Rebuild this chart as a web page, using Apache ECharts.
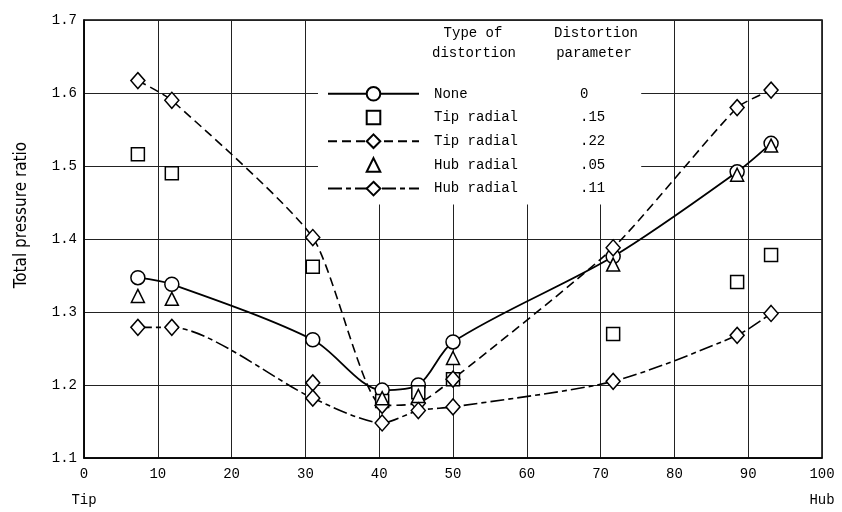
<!DOCTYPE html>
<html>
<head>
<meta charset="utf-8">
<script src="https://cdn.jsdelivr.net/npm/echarts@6/dist/echarts.min.js"></script>
<style>
  html, body { margin: 0; background: #fff; }
  #chart { width: 842px; height: 512px; }
</style>
</head>
<body>
<div id="chart"></div>
<script>
// radial position, percent of passage height measured from tip
const positions = [7.3, 11.9, 31, 40.4, 45.3, 50, 71.7, 88.5, 93.1];

// total pressure ratio at each position
const noneRatio  = [1.347, 1.338, 1.262, 1.193, 1.200, 1.259, 1.376, 1.492, 1.531];
const tip15Ratio = [1.516, 1.490, 1.362, 1.178, 1.190, 1.208, 1.270, 1.341, 1.378];
const tip22Ratio = [1.617, 1.590, 1.402, 1.172, 1.175, 1.208, 1.388, 1.580, 1.604];
const hub05Ratio = [1.322, 1.318, null, 1.182, 1.185, 1.237, 1.365, 1.488, 1.528];
const hub11Ratio = [1.279, 1.279, 1.182, 1.148, 1.165, 1.170, 1.205, 1.268, 1.298];
// one more hub radial .11 reading at the 31 percent station
const hub11ExtraPos = [31];
const hub11ExtraRatio = [1.203];

const distortionTypes  = ['None', 'Tip radial', 'Tip radial', 'Hub radial', 'Hub radial'];
const distortionParams = ['0', '.15', '.22', '.05', '.11'];

const xMin = 0, xMax = 100, xStep = 10;
const yMin = 1.1, yMax = 1.7, yStep = 0.1;

const MONO = '"Liberation Mono", "DejaVu Sans Mono", monospace';
const NARROW = '"Liberation Sans Narrow", "DejaVu Sans Condensed", sans-serif';

const seriesNames = distortionTypes.map((t, i) => t + ' ' + distortionParams[i]);

function pairs(xs, ys) {
  return xs.map((x, i) => [x, ys[i]]).filter(p => p[1] != null);
}

const hollow = { color: '#fff', borderColor: '#000', borderWidth: 1.5, opacity: 1 };
// symbols only: a line series whose line is hidden, so the legend keeps the symbol square
const noLine = { color: '#000', width: 0, opacity: 0 };

const chart = echarts.init(document.getElementById('chart'));

chart.setOption({
  backgroundColor: '#fff',
  animation: false,
  grid: { left: 84, right: 20, top: 20, bottom: 54, show: true, borderColor: '#000', borderWidth: 1.5 },
  xAxis: {
    type: 'value', min: xMin, max: xMax, interval: xStep,
    axisLine: { show: true, lineStyle: { color: '#000', width: 1.5 } },
    axisTick: { show: false },
    splitLine: { show: true, lineStyle: { color: '#222', width: 1 } },
    axisLabel: {
      margin: 8, color: '#000',
      formatter: v => v === 0 ? '{v|0}\n{t|Tip}' : (v === 100 ? '{v|100}\n{t|Hub}' : '{v|' + v + '}'),
      rich: {
        v: { fontFamily: MONO, fontSize: 14, lineHeight: 16, color: '#000' },
        t: { fontFamily: MONO, fontSize: 14, lineHeight: 36, color: '#000' }
      }
    }
  },
  yAxis: {
    type: 'value', min: yMin, max: yMax, interval: yStep,
    axisLine: { show: true, lineStyle: { color: '#000', width: 1.5 } },
    axisTick: { show: false },
    splitLine: { show: true, lineStyle: { color: '#222', width: 1 } },
    axisLabel: { margin: 7, color: '#000', fontFamily: MONO, fontSize: 14, formatter: v => v.toFixed(1) }
  },
  legend: {
    orient: 'vertical', left: 318, top: 21,
    padding: [65, 36, 8, 9],
    backgroundColor: '#fff',
    itemWidth: 91, itemHeight: 17, itemGap: 8.1,
    selectedMode: false,
    data: seriesNames,
    formatter: name => {
      const i = seriesNames.indexOf(name);
      return '{n|' + distortionTypes[i] + '}{p|' + distortionParams[i] + '}';
    },
    textStyle: {
      fontFamily: MONO, fontSize: 14, color: '#000',
      rich: {
        n: { fontFamily: MONO, fontSize: 14, color: '#000', width: 146, padding: [0, 0, 0, 10] },
        p: { fontFamily: MONO, fontSize: 14, color: '#000' }
      }
    }
  },
  graphic: [
    { type: 'text', x: 473, y: 33, z: 100, style: { text: 'Type of', font: '14px ' + MONO, fill: '#000', textAlign: 'center', textVerticalAlign: 'middle' } },
    { type: 'text', x: 474, y: 53, z: 100, style: { text: 'distortion', font: '14px ' + MONO, fill: '#000', textAlign: 'center', textVerticalAlign: 'middle' } },
    { type: 'text', x: 596, y: 33, z: 100, style: { text: 'Distortion', font: '14px ' + MONO, fill: '#000', textAlign: 'center', textVerticalAlign: 'middle' } },
    { type: 'text', x: 594, y: 53, z: 100, style: { text: 'parameter', font: '14px ' + MONO, fill: '#000', textAlign: 'center', textVerticalAlign: 'middle' } },
    { type: 'text', x: 22, y: 215, rotation: Math.PI / 2, style: { text: 'Total pressure ratio', font: '17px ' + NARROW, fill: '#000', textAlign: 'center', textVerticalAlign: 'middle' } }
  ],
  series: [
    {
      name: seriesNames[0], type: 'line', smooth: 0.3,
      data: pairs(positions, noneRatio),
      symbol: 'circle', symbolSize: 14,
      lineStyle: { color: '#000', width: 1.8 },
      itemStyle: hollow
    },
    {
      name: seriesNames[1], type: 'line',
      data: pairs(positions, tip15Ratio),
      symbol: 'rect', symbolSize: 13,
      lineStyle: noLine,
      itemStyle: hollow
    },
    {
      name: seriesNames[2], type: 'line', smooth: 0.2,
      data: pairs(positions, tip22Ratio),
      symbol: 'diamond', symbolSize: [14, 16],
      lineStyle: { color: '#000', width: 1.6, type: [9, 5] },
      itemStyle: hollow
    },
    {
      name: seriesNames[3], type: 'line',
      data: pairs(positions, hub05Ratio),
      symbol: 'triangle', symbolSize: 13,
      lineStyle: noLine,
      itemStyle: hollow
    },
    {
      name: seriesNames[4], type: 'line', smooth: 0.25,
      data: pairs(positions, hub11Ratio),
      symbol: 'diamond', symbolSize: [14, 16],
      lineStyle: { color: '#000', width: 1.6, type: [14, 4, 5, 4] },
      itemStyle: hollow
    },
    {
      name: 'hub11-extra', type: 'scatter',
      data: pairs(hub11ExtraPos, hub11ExtraRatio),
      symbol: 'diamond', symbolSize: [14, 16],
      itemStyle: hollow
    }
  ]
});
</script>
</body>
</html>
